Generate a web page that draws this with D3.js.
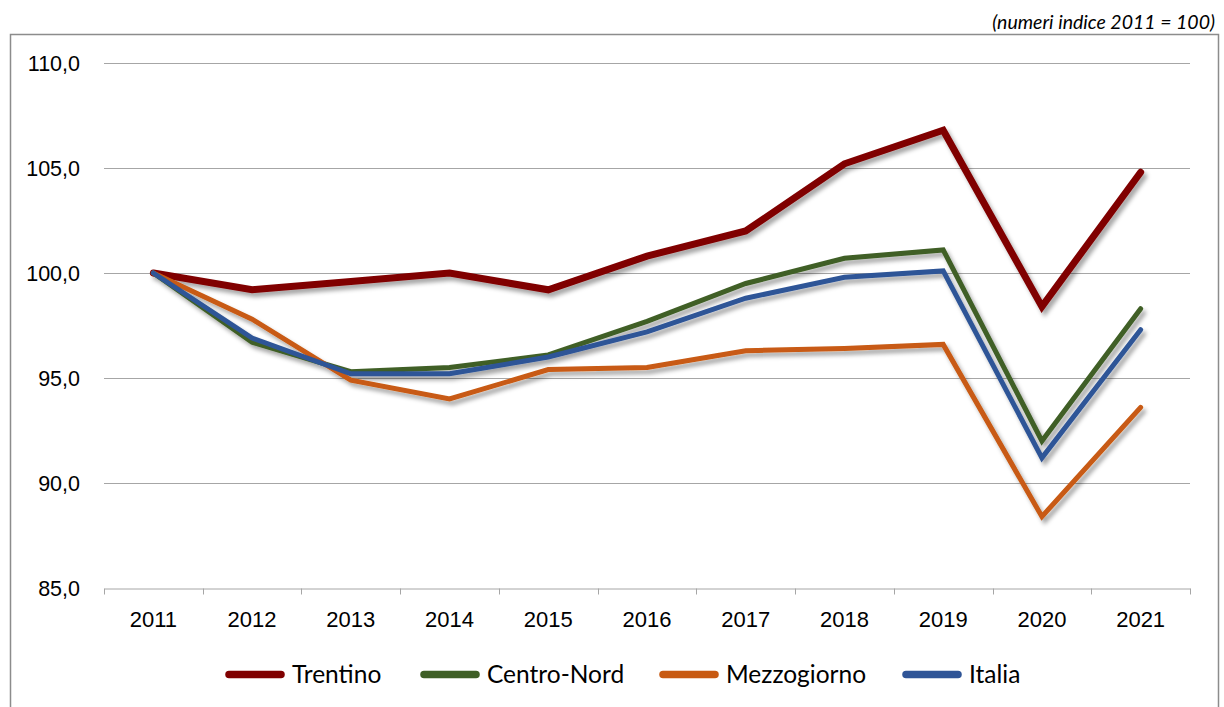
<!doctype html>
<html lang="it">
<head>
<meta charset="UTF-8" />
<title>Numeri indice 2011 = 100</title>
<script src="https://d3js.org/d3.v7.min.js"></script>
<style>
  body { margin: 0; background: #fff; }
  svg { font-family: Lato, "Open Sans", sans-serif; }
  .tick text { fill: #000; }
</style>
</head>
<body>
<svg width="1224" height="707"></svg>
<script>
const years = ["2011","2012","2013","2014","2015","2016","2017","2018","2019","2020","2021"];
const trentino    = [100.0, 99.2, 99.6, 100.0, 99.2, 100.8, 102.0, 105.2, 106.8, 98.4, 104.8];
const centroNord  = [100.0, 96.7, 95.3, 95.5, 96.1, 97.7, 99.5, 100.7, 101.1, 92.0, 98.3];
const mezzogiorno = [100.0, 97.8, 94.9, 94.0, 95.4, 95.5, 96.3, 96.4, 96.6, 88.4, 93.6];
const italia      = [100.0, 96.9, 95.2, 95.2, 96.0, 97.2, 98.8, 99.8, 100.1, 91.2, 97.3];
const yTicks = [85, 90, 95, 100, 105, 110];

const series = [
  { name: "Trentino", values: trentino, color: "#800000", width: 7 },
  { name: "Centro-Nord", values: centroNord, color: "#3f5f26", width: 5 },
  { name: "Mezzogiorno", values: mezzogiorno, color: "#c85a12", width: 5 },
  { name: "Italia", values: italia, color: "#2f5597", width: 5 }
];

const svg = d3.select("svg");
const plotLeft = 104, plotRight = 1190, plotTop = 63, plotBottom = 588;

// drop shadow
const defs = svg.append("defs");
const f = defs.append("filter").attr("id", "shadow")
  .attr("x", "-10%").attr("y", "-10%").attr("width", "120%").attr("height", "130%");
f.append("feDropShadow").attr("dx", 3).attr("dy", 4).attr("stdDeviation", 2.2)
  .attr("flood-color", "#000").attr("flood-opacity", 0.35);

// frame
svg.append("path")
  .attr("d", "M10.5,710 V34.5 H1218.5 V710")
  .attr("fill", "none").attr("stroke", "#8c8c8c").attr("stroke-width", 1.5);

svg.append("text")
  .attr("x", 1215).attr("y", 29)
  .attr("text-anchor", "end")
  .style("font-style", "italic").style("font-size", "19.5px")
  .text("(numeri indice 2011 = 100)");

const x = d3.scaleBand().domain(years).range([plotLeft, plotRight]);
const y = d3.scaleLinear().domain([85, 110]).range([plotBottom, plotTop]);

// gridlines
svg.append("g").selectAll("line")
  .data(yTicks.filter(d => d > 85))
  .join("line")
  .attr("x1", plotLeft).attr("x2", plotRight)
  .attr("y1", d => Math.round(y(d)) + 0.5).attr("y2", d => Math.round(y(d)) + 0.5)
  .attr("stroke", "#a6a6a6").attr("stroke-width", 1);

// y axis labels
const yAxis = svg.append("g")
  .attr("transform", "translate(" + (plotLeft - 24) + ",1)")
  .call(d3.axisLeft(y).tickValues(yTicks).tickSize(0).tickPadding(0)
    .tickFormat(d => d3.format(".1f")(d).replace(".", ",")));
yAxis.select(".domain").remove();
yAxis.selectAll("text").style("font-size", "21.5px");

// x axis
const xAxis = svg.append("g")
  .attr("transform", "translate(0," + (plotBottom + 0.5) + ")")
  .call(d3.axisBottom(x).tickSize(0).tickPadding(23));
xAxis.select(".domain").attr("stroke", "#a6a6a6");
xAxis.selectAll("text").style("font-size", "22px");
xAxis.append("g").selectAll("line")
  .data(years.map(d => x(d)).concat([plotRight]))
  .join("line")
  .attr("x1", d => Math.round(d) + 0.5).attr("x2", d => Math.round(d) + 0.5)
  .attr("y1", 0).attr("y2", 6)
  .attr("stroke", "#a6a6a6");

const line = d3.line()
  .x((d, i) => x(years[i]) + x.bandwidth() / 2)
  .y(d => y(d));

svg.append("g").attr("filter", "url(#shadow)")
  .selectAll("path")
  .data(series)
  .join("path")
  .attr("d", d => line(d.values))
  .attr("fill", "none")
  .attr("stroke", d => d.color)
  .attr("stroke-width", d => d.width)
  .attr("stroke-linecap", "round")
  .attr("stroke-linejoin", "miter");

// legend
const legendX = [225, 420, 659, 902];
const lg = svg.append("g").selectAll("g")
  .data(series)
  .join("g")
  .attr("transform", (d, i) => "translate(" + legendX[i] + ",674.5)");
lg.append("line")
  .attr("x1", 4).attr("x2", 56)
  .attr("stroke", d => d.color).attr("stroke-width", 7.5).attr("stroke-linecap", "round");
lg.append("text")
  .attr("x", 67).attr("dy", "0.36em")
  .style("font-size", "24.5px")
  .text(d => d.name);
</script>
</body>
</html>
